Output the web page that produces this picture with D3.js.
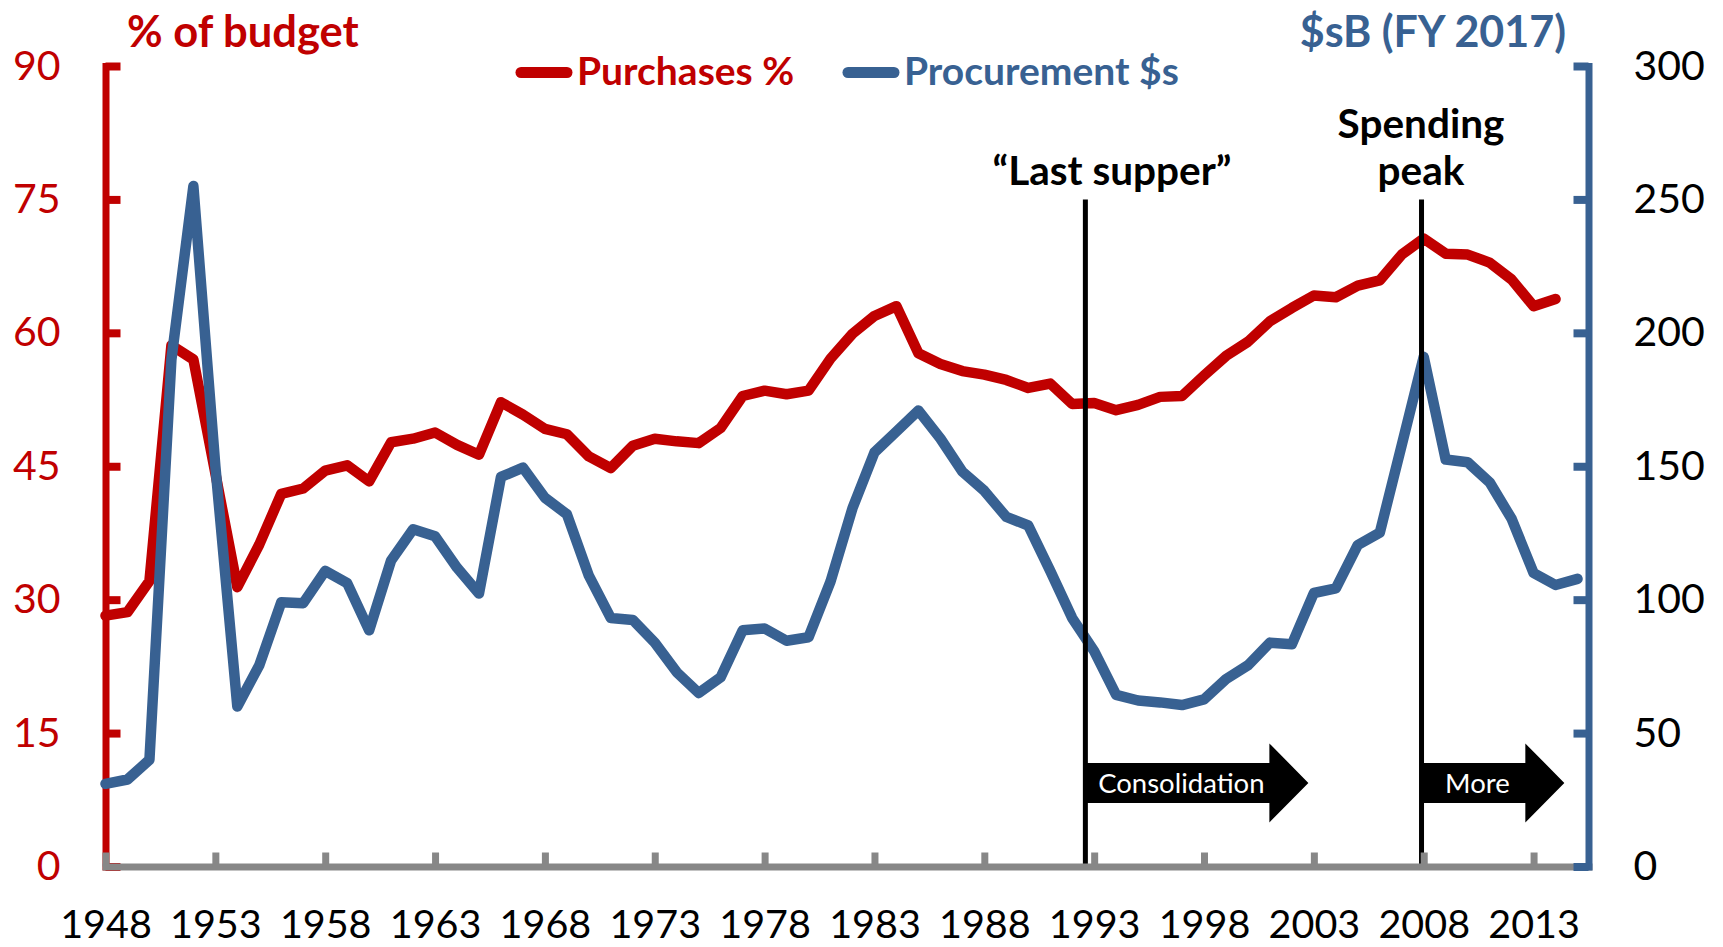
<!DOCTYPE html>
<html><head><meta charset="utf-8">
<script src="https://cdn.jsdelivr.net/npm/d3@7"></script>
<style>
html,body{margin:0;padding:0;background:#fff;}
svg{display:block;font-family:Lato,"Open Sans",sans-serif;}
</style></head><body>
<svg id="chart" width="1723" height="947"></svg>
<script>
// ---- data ----
const years = [1948,1949,1950,1951,1952,1953,1954,1955,1956,1957,1958,1959,1960,1961,1962,1963,1964,1965,1966,1967,1968,1969,1970,1971,1972,1973,1974,1975,1976,1977,1978,1979,1980,1981,1982,1983,1984,1985,1986,1987,1988,1989,1990,1991,1992,1993,1994,1995,1996,1997,1998,1999,2000,2001,2002,2003,2004,2005,2006,2007,2008,2009,2010,2011,2012,2013,2014,2015];
// Purchases as % of budget (left axis), 1948-2014
const purchasesPct = [28.2,28.6,32.1,58.6,57.0,44.2,31.4,36.2,41.9,42.5,44.5,45.1,43.3,47.7,48.1,48.8,47.4,46.3,52.2,50.8,49.2,48.6,46.1,44.8,47.3,48.1,47.8,47.6,49.3,52.9,53.5,53.1,53.5,57.1,59.9,61.9,63.0,57.7,56.5,55.7,55.3,54.7,53.8,54.3,52.0,52.1,51.3,51.9,52.8,52.9,55.2,57.4,59.0,61.3,62.8,64.2,64.0,65.3,65.9,68.8,70.6,68.9,68.8,67.9,66.0,63.0,63.8];
// Procurement $B FY2017 (right axis), 1948-2015
const procurementB = [31,32.6,40,190,255,150,60,75.4,99,98.7,110.8,106.2,88.5,114.7,126.4,123.8,112,102.3,146,149.5,138.2,132,109,93.1,92.4,83.9,72.8,65,70.9,88.5,89.2,84.6,85.9,106.8,134.3,155.2,163,170.9,160.4,148,140.8,131,127.8,110.8,93.1,80.7,64.3,62.2,61.5,60.5,62.6,70.2,75.4,83.9,83.3,102.5,104.2,120.5,125.1,158,191,152.5,151.5,144,130.3,110,105.5,107.8];
const xTickYears = [1948,1953,1958,1963,1968,1973,1978,1983,1988,1993,1998,2003,2008,2013];
const leftTicks = [0,15,30,45,60,75,90];
const rightTicks = [0,50,100,150,200,250,300];
const seriesNames = ["Purchases %","Procurement $s"];
const leftTitle = "% of budget";
const rightTitle = "$sB (FY 2017)";
const markerYears = [1992.6, 2007.9];
const markerLabels = [["\u201CLast supper\u201D"], ["Spending","peak"]];
const arrowFrom = [1992.6, 2007.9];
const arrowTo = [2002.75, 2014.4];
const arrowLabels = ["Consolidation","More"];

// ---- styles ----
const RED = "#C00000", BLUE = "#386192", GRAY = "#878787";
const svg = d3.select("#chart");

const x = d3.scaleLinear().domain([1948, 2015.5]).range([105.5, 1588.5]);
const yL = d3.scaleLinear().domain([0, 90]).range([866.5, 66]);
const yR = d3.scaleLinear().domain([0, 300]).range([866.5, 66]);

// left axis
const gL = svg.append("g").attr("transform", `translate(${x(1948)},0)`)
  .call(d3.axisLeft(yL).tickValues(leftTicks).tickSizeInner(-15).tickSizeOuter(0).tickPadding(45));
gL.select(".domain").attr("stroke", RED).attr("stroke-width", 7).attr("stroke-linecap","square");
gL.selectAll(".tick line").attr("stroke", RED).attr("stroke-width", 8);
gL.selectAll(".tick text").attr("fill", RED).attr("font-size", 41).attr("font-family","Lato");

// series
const purchData = purchasesPct.map((v,i)=>({year: years[i], v}));
const procData = procurementB.map((v,i)=>({year: years[i], v}));
svg.append("path").datum(purchData)
  .attr("d", d3.line().x(d=>x(d.year)).y(d=>yL(d.v)))
  .attr("fill","none").attr("stroke",RED).attr("stroke-width",10.5)
  .attr("stroke-linejoin","round").attr("stroke-linecap","round");
svg.append("path").datum(procData)
  .attr("d", d3.line().x(d=>x(d.year)).y(d=>yR(d.v)))
  .attr("fill","none").attr("stroke",BLUE).attr("stroke-width",10.5)
  .attr("stroke-linejoin","round").attr("stroke-linecap","round");

// marker lines
svg.selectAll("line.marker").data(markerYears).join("line").attr("class","marker")
  .attr("x1", d=>x(d)).attr("x2", d=>x(d))
  .attr("y1", yL(75)).attr("y2", yL(0))
  .attr("stroke","#000").attr("stroke-width",5);

// arrows
const boxH = 20, headH = 39.5, headL = 39;
const cy = yL(9.4);
arrowLabels.forEach((lab, i) => {
  const x0 = x(arrowFrom[i]), xt = x(arrowTo[i]), xb = xt - headL;
  svg.append("path")
    .attr("d", `M${x0},${cy-boxH}L${xb},${cy-boxH}L${xb},${cy-headH}L${xt},${cy}L${xb},${cy+headH}L${xb},${cy+boxH}L${x0},${cy+boxH}Z`)
    .attr("fill","#000");
  svg.append("text").attr("x",(x0+xb)/2 + 4).attr("y",cy).attr("dy","0.36em")
    .attr("text-anchor","middle").attr("fill","#fff").attr("font-size",27.5).text(lab);
});

// x axis
const gX = svg.append("g").attr("transform", `translate(0,${yL(0)})`)
  .call(d3.axisBottom(x).tickValues(xTickYears).tickFormat(d3.format("d")).tickSizeInner(-14).tickSizeOuter(0).tickPadding(43));
gX.select(".domain").attr("stroke", GRAY).attr("stroke-width", 7).attr("stroke-linecap","square");
gX.selectAll(".tick line").attr("stroke", GRAY).attr("stroke-width", 7);
gX.selectAll(".tick text").attr("fill","#000").attr("font-size",39.5).attr("font-family","Lato");

// right axis
const gR = svg.append("g").attr("transform", `translate(${x(2015.5)},0)`)
  .call(d3.axisRight(yR).tickValues(rightTicks).tickSizeInner(-15).tickSizeOuter(0).tickPadding(45));
gR.select(".domain").attr("stroke", BLUE).attr("stroke-width", 7).attr("stroke-linecap","square");
gR.selectAll(".tick line").attr("stroke", BLUE).attr("stroke-width", 8);
gR.selectAll(".tick text").attr("fill","#000").attr("font-size",41).attr("font-family","Lato");

// axis titles
svg.append("text").attr("x",127).attr("y",47).attr("fill",RED)
  .attr("font-weight",700).attr("font-size",43.5).text(leftTitle);
svg.append("text").attr("x",1566).attr("y",47).attr("text-anchor","end").attr("fill",BLUE)
  .attr("font-weight",700).attr("font-size",43).text(rightTitle);

// legend
const legX = [521, 848], legCol = [RED, BLUE];
seriesNames.forEach((n,i)=>{
  svg.append("line").attr("x1",legX[i]).attr("x2",legX[i]+46).attr("y1",72.5).attr("y2",72.5)
    .attr("stroke",legCol[i]).attr("stroke-width",11).attr("stroke-linecap","round");
  svg.append("text").attr("x",legX[i]+56).attr("y",85).attr("fill",legCol[i])
    .attr("font-weight",700).attr("font-size",39).text(n);
});

// marker labels
const labelCx = [1112, 1421];
markerLabels.forEach((lines,i)=>{
  const base = 185 - (lines.length-1)*47;
  lines.forEach((t,j)=>{
    svg.append("text").attr("x",labelCx[i]).attr("y",base + j*47).attr("text-anchor","middle")
      .attr("fill","#000").attr("font-weight",700).attr("font-size",40.5).text(t);
  });
});
</script>
</body></html>
